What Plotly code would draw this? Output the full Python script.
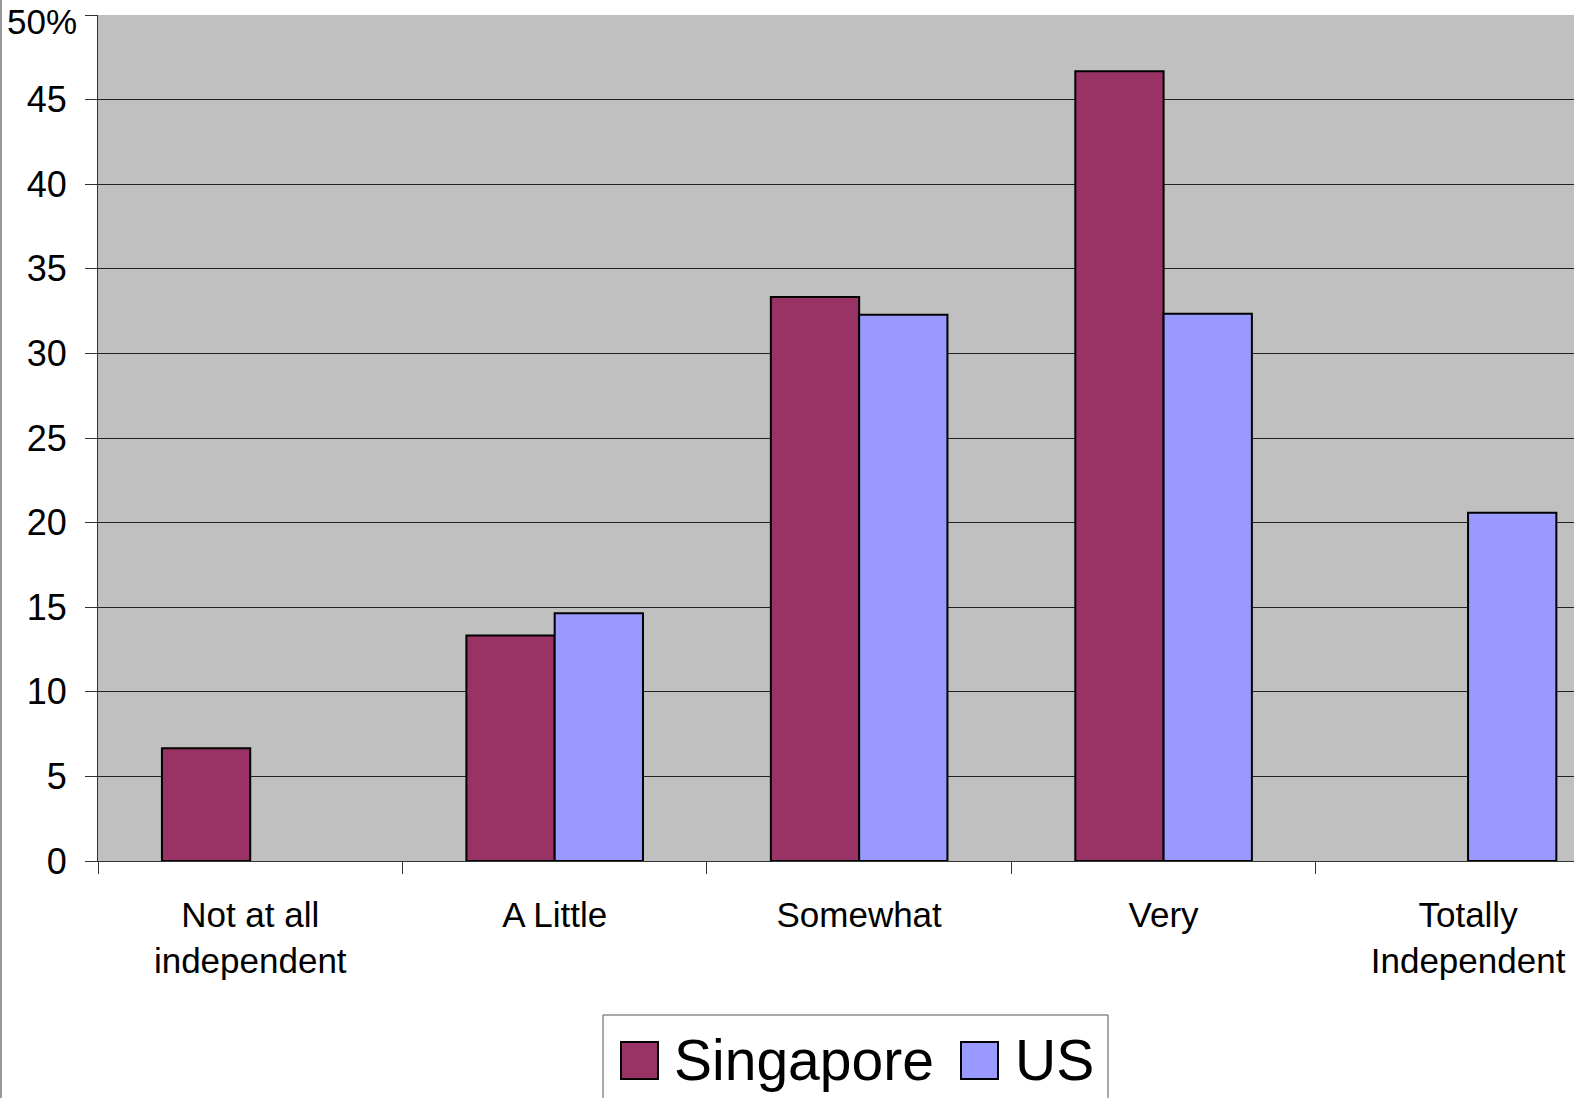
import plotly.graph_objects as go

categories = ["Not at all<br>independent", "A Little", "Somewhat", "Very", "Totally<br>Independent"]
singapore = [6.67, 13.33, 33.33, 46.67, None]
us = [None, 14.64, 32.28, 32.35, 20.58]
y_tickvals = [0, 5, 10, 15, 20, 25, 30, 35, 40, 45, 50]
y_ticktext = ["0", "5", "10", "15", "20", "25", "30", "35", "40", "45", ""]
top_label = "50%"

W, H = 1574, 1098
ML, MR, MT, MB = 98, 0, 15, 237
PW, PH = W - ML - MR, H - MT - MB

FONT = "Liberation Sans, Arial, sans-serif"
SG_COLOR = "#993366"
US_COLOR = "#9999FF"

fig = go.Figure()
fig.add_trace(go.Bar(name="Singapore", x=categories, y=singapore,
                     marker=dict(color=SG_COLOR, line=dict(color="black", width=2)),
                     showlegend=False))
fig.add_trace(go.Bar(name="US", x=categories, y=us,
                     marker=dict(color=US_COLOR, line=dict(color="black", width=2)),
                     showlegend=False))

fig.update_layout(
    width=W, height=H,
    margin=dict(l=ML, r=MR, t=MT, b=MB, pad=0),
    paper_bgcolor="white",
    plot_bgcolor="#C0C0C0",
    barmode="group",
    bargap=0.42,
    bargroupgap=0,
    font=dict(family=FONT, color="black"),
    xaxis=dict(
        type="category",
        range=[-0.5, 4.348],
        tickson="boundaries",
        ticks="outside", ticklen=12, tickcolor="#333333", tickwidth=1,
        showline=True, linecolor="#333333", linewidth=1,
        showgrid=False,
        tickfont=dict(size=35, family=FONT, color="black"),
        ticklabelstandoff=23,
    ),
    yaxis=dict(
        range=[0, 50],
        tickvals=y_tickvals, ticktext=y_ticktext,
        ticks="outside", ticklen=12, tickcolor="#333333", tickwidth=1,
        showline=True, linecolor="#333333", linewidth=1,
        showgrid=True, gridcolor="#222222", gridwidth=1,
        zeroline=False,
        tickfont=dict(size=36, family=FONT, color="black"),
        ticklabelstandoff=11,
    ),
)

def px_x(x):
    return (x - ML) / PW

def px_y(y):
    return (H - MB - y) / PH

# top tick label "50%"
fig.add_annotation(xref="paper", yref="y", x=px_x(79), y=y_tickvals[-1],
                   xanchor="right", yanchor="middle", yshift=-6, showarrow=False,
                   text=top_label, font=dict(size=35, family=FONT, color="black"))

# chart border line at the far left
fig.add_shape(type="line", xref="paper", yref="paper",
              x0=px_x(1), x1=px_x(1), y0=px_y(H + 5), y1=px_y(-5),
              line=dict(color="#999999", width=2))

# manual legend (large, Excel style)
fig.add_shape(type="rect", xref="paper", yref="paper",
              x0=px_x(603), x1=px_x(1108), y0=px_y(1015), y1=px_y(1110),
              line=dict(color="#555555", width=1), fillcolor="white")
for (x0, color, label, tx) in [(621, SG_COLOR, "Singapore", 672), (961, US_COLOR, "US", 1013)]:
    fig.add_shape(type="rect", xref="paper", yref="paper",
                  x0=px_x(x0), x1=px_x(x0 + 37), y0=px_y(1042), y1=px_y(1079),
                  line=dict(color="black", width=2), fillcolor=color)
    fig.add_annotation(xref="paper", yref="paper", x=px_x(tx), y=px_y(1060),
                       xanchor="left", yanchor="middle", showarrow=False,
                       text=label, font=dict(size=57, family=FONT, color="black"))

fig.write_html("out.html")
